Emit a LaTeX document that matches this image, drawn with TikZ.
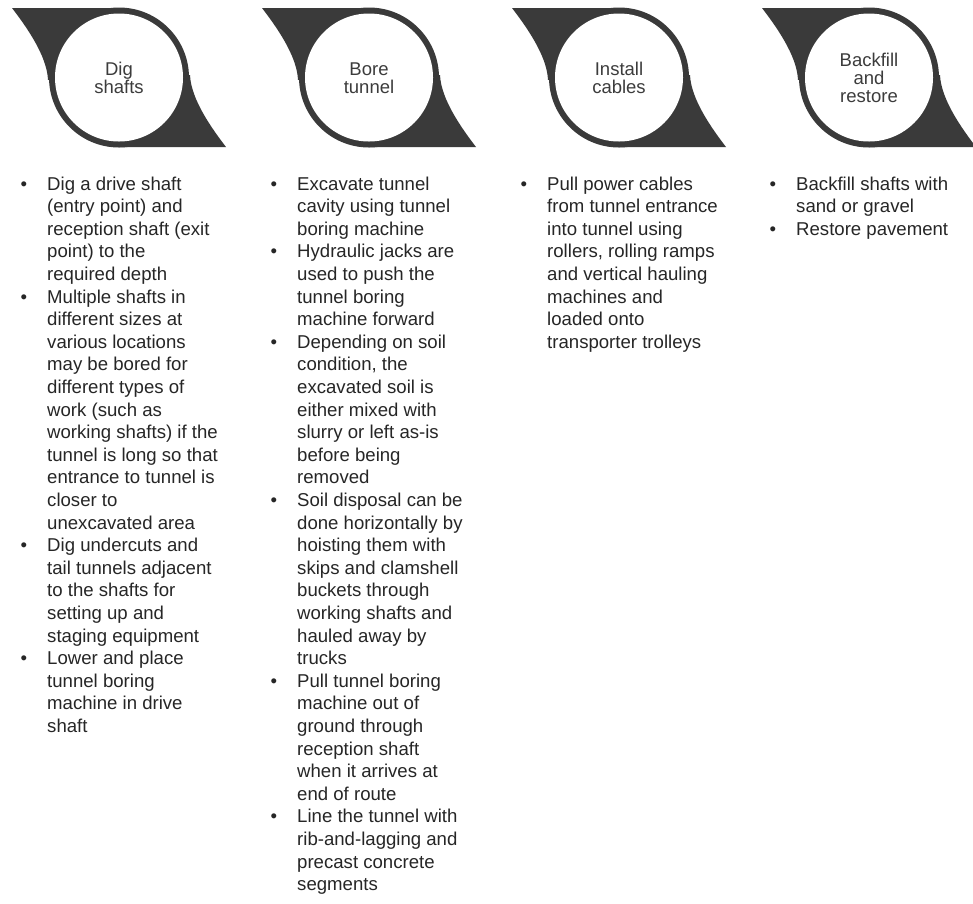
\documentclass[tikz,border=0pt]{standalone}
\usepackage{fontspec}
\setmainfont{Liberation Sans}
\definecolor{shapec}{HTML}{3A3A3A}
\definecolor{txt}{HTML}{262626}
\definecolor{headc}{HTML}{3C3C3C}
\tikzset{
  body/.style={anchor=base west, align=left, inner sep=0pt, text=txt,
    font=\fontsize{18.6}{22.6}\selectfont},
  head/.style={align=center, inner sep=0pt, text=headc,
    font=\fontsize{18.5}{18.3}\selectfont},
}
\newcommand{\bul}{\llap{\textbullet\hspace{20pt}}}
\begin{document}
\begin{tikzpicture}[x=1pt,y=-1pt]
\useasboundingbox (0,0) rectangle (973,903);
\clip (0,0) rectangle (973,903);
\fill[white] (0,0) rectangle (973,903);
\foreach \cx in {119,369,619,869} {
  \fill[shapec] (\cx-107,8) -- (\cx,8) -- (\cx,77.5) -- (\cx-71,80)
    .. controls (\cx-72,55) and (\cx-94,25) .. (\cx-107,8) -- cycle;
  \fill[shapec] (\cx+107,147) -- (\cx,147) -- (\cx,77.5) -- (\cx+71,75)
    .. controls (\cx+72,100) and (\cx+94,130) .. (\cx+107,147) -- cycle;
  \fill[shapec] (\cx,77.5) circle[radius=70];
  \fill[white] (\cx,77.5) circle[radius=64];
}
\node[head] (h1) at (119,78) {Dig\\shafts};
\node[head] (h2) at (369,78) {Bore\\tunnel};
\node[head] (h3) at (619,78) {Install\\cables};
\node[head] (h4) at (869,78) {Backfill\\and\\restore};

% base anchor of a multi-line node is the baseline of its last line
\node[body] (c1) at (47,732.4) {\bul Dig a drive shaft\\
(entry point) and\\
reception shaft (exit\\
point) to the\\
required depth\\
\bul Multiple shafts in\\
different sizes at\\
various locations\\
may be bored for\\
different types of\\
work (such as\\
working shafts) if the\\
tunnel is long so that\\
entrance to tunnel is\\
closer to\\
unexcavated area\\
\bul Dig undercuts and\\
tail tunnels adjacent\\
to the shafts for\\
setting up and\\
staging equipment\\
\bul Lower and place\\
tunnel boring\\
machine in drive\\
shaft};

\node[body] (c2) at (297,890.6) {\bul Excavate tunnel\\
cavity using tunnel\\
boring machine\\
\bul Hydraulic jacks are\\
used to push the\\
tunnel boring\\
machine forward\\
\bul Depending on soil\\
condition, the\\
excavated soil is\\
either mixed with\\
slurry or left as-is\\
before being\\
removed\\
\bul Soil disposal can be\\
done horizontally by\\
hoisting them with\\
skips and clamshell\\
buckets through\\
working shafts and\\
hauled away by\\
trucks\\
\bul Pull tunnel boring\\
machine out of\\
ground through\\
reception shaft\\
when it arrives at\\
end of route\\
\bul Line the tunnel with\\
rib-and-lagging and\\
precast concrete\\
segments};

\node[body] (c3) at (547,348.2) {\bul Pull power cables\\
from tunnel entrance\\
into tunnel using\\
rollers, rolling ramps\\
and vertical hauling\\
machines and\\
loaded onto\\
transporter trolleys};

\node[body] (c4) at (796,235.2) {\bul Backfill shafts with\\
sand or gravel\\
\bul Restore pavement};
\end{tikzpicture}
\end{document}
